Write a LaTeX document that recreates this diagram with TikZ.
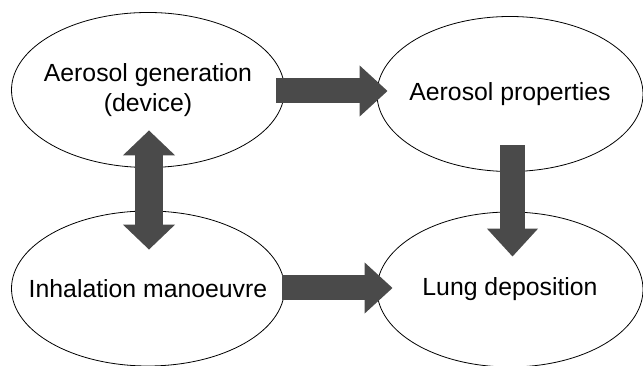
\documentclass[tikz,border=0pt]{standalone}
\usepackage{fontspec}
\setmainfont{Liberation Sans}
\usetikzlibrary{arrows.meta,shapes.geometric}
\tikzset{
  bubble/.style={draw,ellipse,line width=0.6pt,inner xsep=-30pt,inner ysep=0pt,
    align=center,minimum height=116.25pt,font=\fontsize{18.6}{22.5}\selectfont},
  blockarrow/.style={line width=18.75pt,draw=black!71,
    -{Triangle[length=21pt,width=37pt]}},
  blockboth/.style={line width=21pt,draw=black!71,
    {Triangle[length=18.75pt,width=38pt]}-{Triangle[length=18.75pt,width=38pt]}}
}
\begin{document}
\begin{tikzpicture}[x=0.75pt,y=-0.75pt]
\useasboundingbox (0,0) rectangle (643,366);
\node[bubble,minimum width=204.75pt] (gen) at (148,90) {Aerosol generation\\(device)};
\node[bubble,minimum width=199.5pt] (prop) at (510,94) {Aerosol properties};
\node[bubble,minimum width=204.75pt] (inh) at (148,288.5) {Inhalation manoeuvre};
\node[bubble,minimum width=199.5pt] (lung) at (510,289.5) {Lung deposition};
\draw[blockarrow] ([shift={(-8.5,1)}]gen.east) -- ([shift={(11,-3)}]prop.west);
\draw[blockarrow] ([shift={(-2.5,-0.5)}]inh.east) -- ([shift={(16,-1.5)}]lung.west);
\draw[blockboth] ([shift={(1,-37.5)}]gen.south) -- ([shift={(1,39)}]inh.north);
\draw[blockarrow] ([shift={(2.5,-26.5)}]prop.south) -- ([shift={(2.5,45)}]lung.north);
\end{tikzpicture}
\end{document}
